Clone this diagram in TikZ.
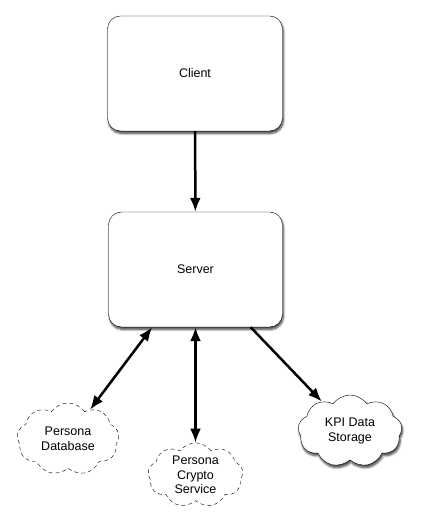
\documentclass[tikz,border=0pt]{standalone}
\usepackage{fontspec}
\setmainfont{Liberation Sans}
\usetikzlibrary{shapes.symbols,arrows.meta,shadows.blur}
\begin{document}
\begin{tikzpicture}[>={Latex[length=14bp,width=11bp]},line join=bevel,
  font=\fontsize{12.5bp}{14.5bp}\selectfont]
\useasboundingbox (0bp,0bp) rectangle (426bp,519bp);
%%
\node (node_client) at (195.0bp,445.5bp) [draw,rounded corners=13bp,minimum width=175bp,minimum height=115bp,fill=white,blur shadow={shadow xshift=1bp,shadow yshift=-2.5bp,shadow blur steps=6,shadow opacity=75}] {Client};
  \node (node_server) at (195.5bp,249.5bp) [draw,rounded corners=13bp,minimum width=174bp,minimum height=115bp,fill=white,blur shadow={shadow xshift=1bp,shadow yshift=-2.5bp,shadow blur steps=6,shadow opacity=75}] {Server};
  \node (node_db) at (68.0bp,80.0bp) [draw,dash pattern=on 4bp off 3bp,cloud,cloud puffs=9,cloud puff arc=110,aspect=1.4,minimum width=102bp,minimum height=72bp,inner sep=0pt,align=center] {Persona\\Database};
  \node (node_crypto) at (195.5bp,44.0bp) [draw,dash pattern=on 4bp off 3bp,cloud,cloud puffs=9,cloud puff arc=110,aspect=1.5,minimum width=95bp,minimum height=60bp,inner sep=0pt,align=center] {Persona\\Crypto\\Service};
  \node (node_kpi) at (350.0bp,88.0bp) [draw,cloud,cloud puffs=9,cloud puff arc=110,aspect=1.4,minimum width=104bp,minimum height=72bp,inner sep=0pt,align=center,fill=white,blur shadow={shadow xshift=1bp,shadow yshift=-2.5bp,shadow blur steps=6,shadow opacity=75}] {KPI Data\\Storage};
  \draw [black,line width=2.5bp,->] (node_client) -- (node_server);
  \draw [black,line width=2.5bp,<->] (node_server) -- (node_db);
  \draw [black,line width=2.5bp,<->] (node_server) -- (node_crypto);
  \draw [black,line width=2.5bp,->] (node_server) -- (node_kpi);
%
\end{tikzpicture}
\end{document}
